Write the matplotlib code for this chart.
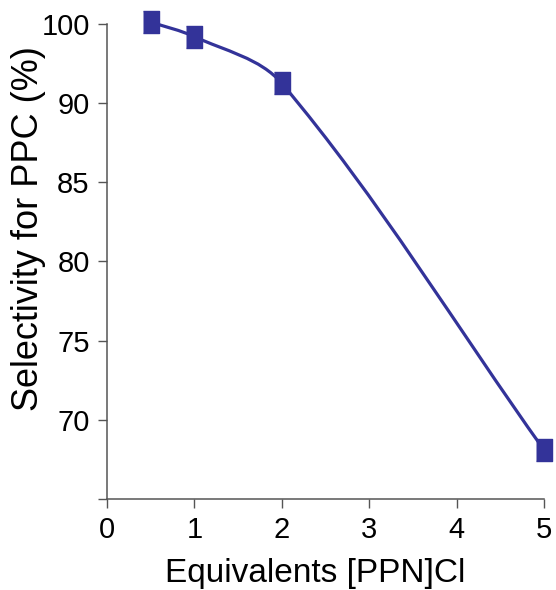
import numpy as np
import matplotlib
matplotlib.use("Agg")
import matplotlib.pyplot as plt
from matplotlib.path import Path
from matplotlib.patches import PathPatch

plt.rcParams['font.family'] = ['Liberation Sans', 'DejaVu Sans']

# data
equiv = [0.5, 1, 2, 5]
selectivity = [100.25, 98.4, 92.5, 68.1]

y_ticks = [65, 70, 75, 80, 85, 90, 100]
y_ticklabels = ['', '70', '75', '80', '85', '90', '100']
x_ticks = [0, 1, 2, 3, 4, 5]

color = '#333399'


# the original axis squeezes 90-100 into one tick step
def fwd(y):
    y = np.asarray(y, dtype=float)
    return np.where(y <= 90, y, 90 + (y - 90) / 2)


def inv(y):
    y = np.asarray(y, dtype=float)
    return np.where(y <= 90, y, 90 + (y - 90) * 2)


fig = plt.figure(figsize=(5.56, 5.90), dpi=100)
ax = fig.add_axes([107 / 556, 91 / 590, 437 / 556, 475 / 590])
ax.set_yscale('function', functions=(fwd, inv))
ax.set_xlim(0, 5)
ax.set_ylim(65, 100)

# smooth line like the spreadsheet one: bezier built in display space
pts = ax.transData.transform(np.column_stack([equiv, selectivity]))
n = len(pts)
tang = []
for i in range(n):
    a = pts[max(i - 1, 0)]
    b = pts[min(i + 1, n - 1)]
    d = b - a
    tang.append(d / np.hypot(*d))
verts = [pts[0]]
codes = [Path.MOVETO]
for i in range(n - 1):
    L = np.hypot(*(pts[i + 1] - pts[i])) / 3
    verts += [pts[i] + tang[i] * L, pts[i + 1] - tang[i + 1] * L, pts[i + 1]]
    codes += [Path.CURVE4] * 3
verts = ax.transData.inverted().transform(np.array(verts))
ax.add_patch(PathPatch(Path(verts, codes), fill=False, edgecolor=color,
                       lw=2.3, clip_on=False, zorder=2))

ax.plot(equiv, selectivity, ls='none', marker=[(-0.7, -1), (0.7, -1), (0.7, 1), (-0.7, 1)],
        ms=15.5, mfc=color, mec=color, clip_on=False, zorder=3)

ax.set_xticks(x_ticks)
ax.set_yticks(y_ticks)
ax.set_yticklabels(y_ticklabels)
ax.yaxis.set_minor_locator(matplotlib.ticker.NullLocator())
ax.tick_params(direction='out', length=6.5, width=1, color='#555555',
               labelsize=21, pad=6)
ax.tick_params(axis='y', pad=6)

for s in ['top', 'right']:
    ax.spines[s].set_visible(False)
for s in ['left', 'bottom']:
    ax.spines[s].set_color('#555555')
    ax.spines[s].set_linewidth(1.1)

ax.set_xlabel('Equivalents [PPN]Cl', fontsize=24)
ax.set_ylabel('Selectivity for PPC (%)', fontsize=26)
ax.xaxis.set_label_coords(0.476, -0.125)
ax.yaxis.set_label_coords(-0.14, 0.57)

fig.savefig('out.png', dpi=100)
